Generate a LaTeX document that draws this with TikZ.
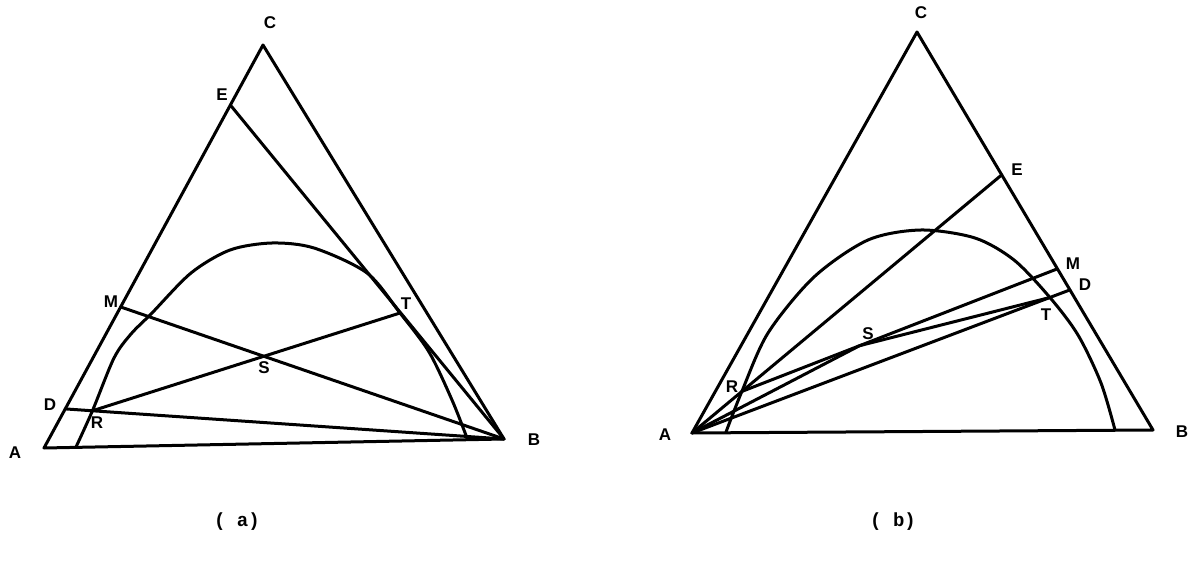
\documentclass[tikz,border=0pt]{standalone}
\usepackage{fontspec}
\newfontfamily\ptfont{Liberation Sans}
\newfontfamily\capfont{Liberation Mono}
\usepackage{tikz}
\usetikzlibrary{calc}

\begin{document}
\begin{tikzpicture}[
  x=1pt, y=-1pt,
  font=\fontsize{17}{17}\selectfont\ptfont\bfseries,
  edge/.style={line width=3pt, line cap=round, line join=round},
  binodal/.style={edge, smooth, tension=0.5},
  lbl/.style={inner sep=0pt},
  caption/.style={inner sep=0pt, font=\fontsize{19}{19}\selectfont\capfont\bfseries}]
\useasboundingbox (0,0) rectangle (1200,564);
% (a)
\coordinate (aA) at (44,448);
\coordinate (aB) at (504,439);
\coordinate (aC) at (263,45);
\coordinate (aD) at ($(aA)!0.097!(aC)$);
\coordinate (aM) at ($(aA)!0.35!(aC)$);
\coordinate (aE) at ($(aA)!0.851!(aC)$);
\coordinate (aR) at ($(aD)!0.062!(aB)$);
\coordinate (aT) at (400,313);
\coordinate (aS) at (intersection of aR--aT and aM--aB);
\node[lbl] (laA) at (15,453) {A};
\node[lbl] (laB) at (534,440) {B};
\node[lbl] (laC) at (270,23) {C};
\node[lbl] (laE) at (222,95) {E};
\node[lbl] (laM) at (111,302) {M};
\node[lbl] (laD) at (50,405) {D};
\node[lbl] (laR) at (97,423) {R};
\node[lbl] (laT) at (406,304) {T};
\node[lbl] (laS) at (264,368) {S};
\draw[edge] (aA) -- (aB) -- (aC) -- cycle;
\draw[edge] (aE) -- (aB);
\draw[edge] (aM) -- (aB);
\draw[edge] (aD) -- (aB);
\draw[edge] (aR) -- (aT);
\draw[binodal] plot coordinates {(76,447) (aR) (114,358) (131,334) (152,313)
  (191,273) (230,250) (272,243) (314,248) (367,273) (aT) (429,352) (452,400)
  (467,438)};
\node[caption] (capa) at (237,522) {( a)};
% (b)
\coordinate (bA) at (692,433);
\coordinate (bB) at (1153,430);
\coordinate (bC) at (917,32);
\coordinate (bE) at ($(bC)!0.359!(bB)$);
\coordinate (bM) at ($(bC)!0.595!(bB)$);
\coordinate (bD) at ($(bC)!0.648!(bB)$);
\coordinate (bR) at ($(bA)!0.161!(bE)$);
\coordinate (bT) at ($(bA)!0.947!(bD)$);
\coordinate (bS) at ($(bR)!0.373!(bM)$);
\node[lbl] (lbA) at (665,435) {A};
\node[lbl] (lbB) at (1182,432) {B};
\node[lbl] (lbC) at (921,13) {C};
\node[lbl] (lbE) at (1017,170) {E};
\node[lbl] (lbM) at (1073,264) {M};
\node[lbl] (lbD) at (1085,285) {D};
\node[lbl] (lbR) at (732,387) {R};
\node[lbl] (lbT) at (1046,315) {T};
\node[lbl] (lbS) at (868,334) {S};
\draw[edge] (bA) -- (bB) -- (bC) -- cycle;
\draw[edge] (bA) -- (bE);
\draw[edge] (bR) -- (bM);
\draw[edge] (bA) -- (bD);
\draw[edge] (bA) -- (bS) -- (bT);
\draw[binodal] plot coordinates {(726,432) (bR) (768,333) (814,277) (868,240)
  (921,230) (975,238) (1014,260) (bT) (1078,335) (1101,383) (1115,430)};
\node[caption] (capb) at (893,522) {( b)};
\end{tikzpicture}
\end{document}
